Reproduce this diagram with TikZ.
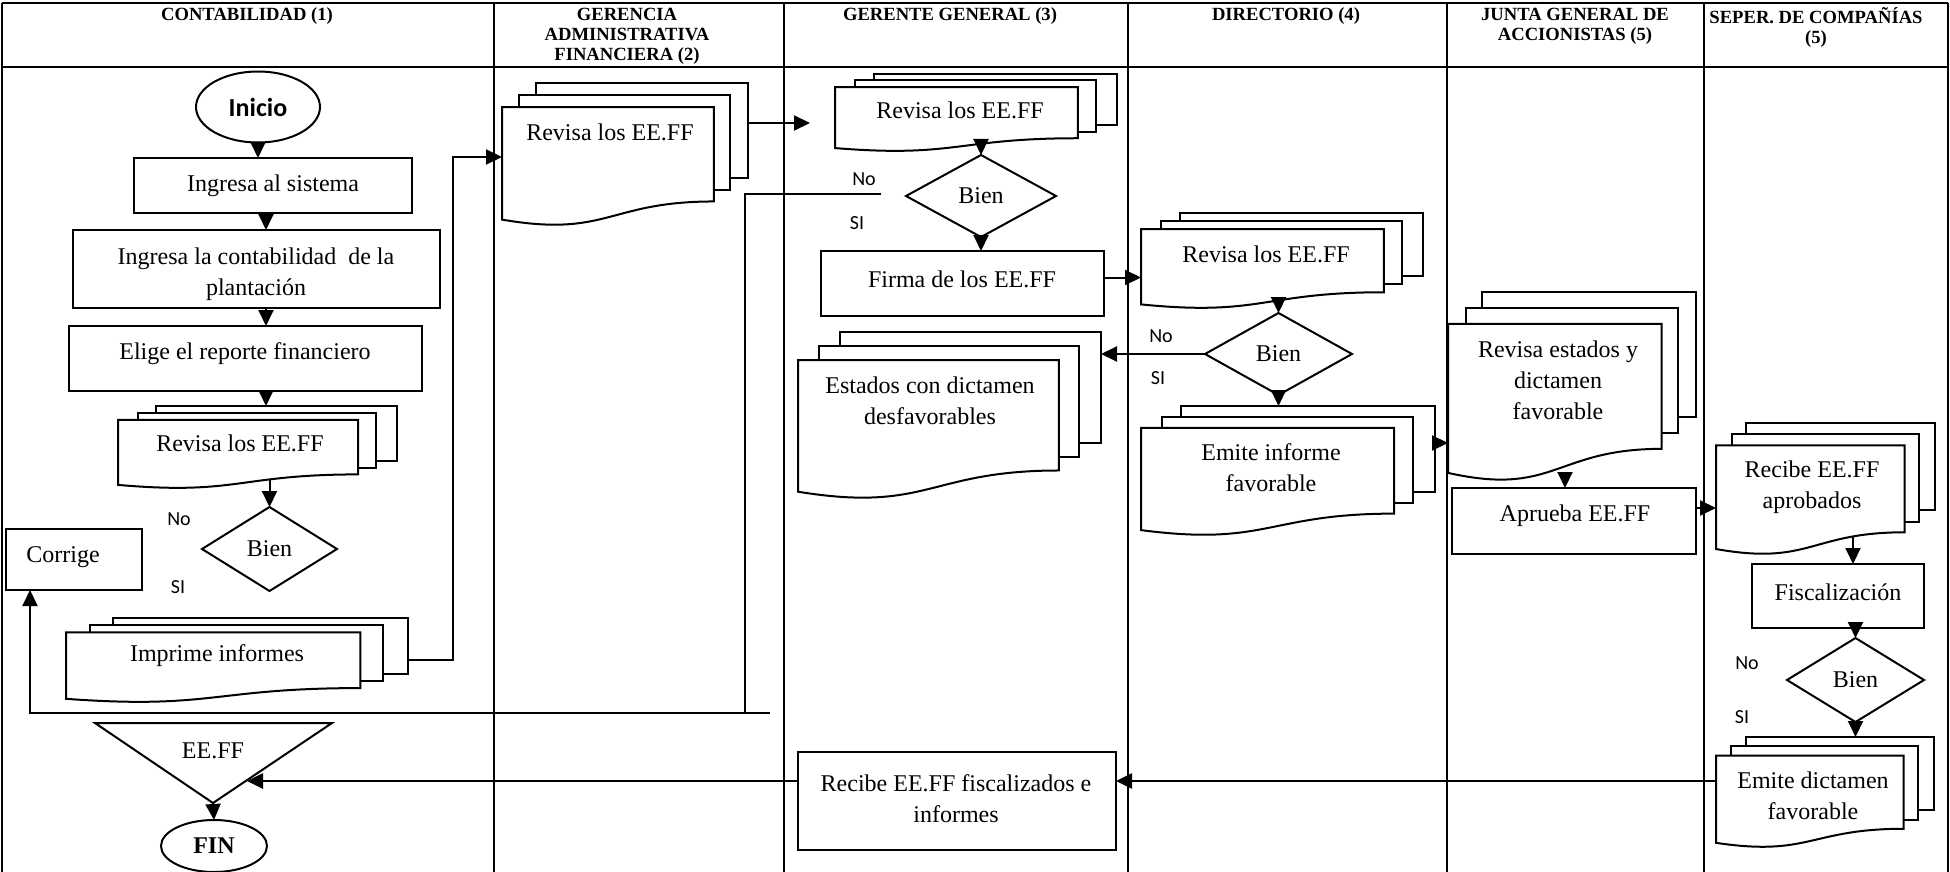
\documentclass[tikz,border=0pt]{standalone}
\usepackage{fontspec}
\setmainfont{Liberation Serif}
\newfontfamily\lblfont{Carlito}
\usetikzlibrary{arrows.meta,shapes.geometric,fit,calc}

% three stacked pages with a wavy bottom edge, drawn inside the box (#2,#3)-(#4,#5)
\newcommand\multidoc[5]{%
  \begin{scope}[shift={(#2,#3)}, xscale={#4-#2}, yscale={#5-#3}]
    \filldraw[page] (0.1376,0) rectangle (1,0.6663);
    \filldraw[page] (0.0709,0.0840) rectangle (0.9259,0.7524);
    \filldraw[page] (0,0.1701) -- (0.8609,0.1701) -- (0.8609,0.8343)
      .. controls (0.4305,0.8343) and (0.4305,1.0899) .. (0,0.9621) -- cycle;
  \end{scope}
  \node[fit={(#2,#3) (#4,#5)}] (#1) {};
}

\begin{document}
\begin{tikzpicture}[x=0.5pt,y=-0.5pt,
  every node/.style={inner sep=0pt, outer sep=0pt},
  grid/.style={line width=1.3pt},
  page/.style={draw, fill=white, line width=1pt},
  box/.style={draw, line width=1pt, rectangle},
  oval/.style={draw, line width=1pt, ellipse},
  decision/.style={draw, line width=1pt, diamond, minimum width=#1},
  txt/.style={font=\fontsize{12}{15.5}\selectfont, align=center},
  hdr/.style={font=\fontsize{9.3}{10}\selectfont\bfseries, align=center, anchor=north},
  lbl/.style={font=\lblfont\fontsize{10}{12}\selectfont},
  link/.style={line width=1pt},
  arr/.style={line width=1pt, -{Triangle[length=8pt,width=7.5pt]}},
]
\useasboundingbox (0,0) rectangle (1950,872);

% ---------- swimlane table ----------
\draw[grid] (2,3) -- (1948,3);
\draw[grid] (2,67) -- (1948,67);
\foreach \cx in {2,494,784,1128,1447,1704,1948}
  \draw[grid] (\cx,3) -- (\cx,872);

\node[hdr] (h1) at (247,8) {CONTABILIDAD (1)};
\node[hdr] (h2) at (627,8) {GERENCIA\\ADMINISTRATIVA\\FINANCIERA (2)};
\node[hdr] (h3) at (950,8) {GERENTE GENERAL (3)};
\node[hdr] (h4) at (1286,8) {DIRECTORIO (4)};
\node[hdr] (h5) at (1575,8) {JUNTA GENERAL DE\\ACCIONISTAS (5)};
\node[hdr] (h6) at (1816,8) {SEPER. DE COMPAÑÍAS\\(5)};

% ---------- Contabilidad ----------
\node[oval, minimum width=62pt, minimum height=35.5pt,
      font=\lblfont\bfseries\fontsize{13}{15}\selectfont] (inicio) at (258,107) {Inicio};
\node[box, fit={(134,158) (412,213)}] (ingresa) {};
\node[txt] (ingresa-t) at (273,186) {Ingresa al sistema};
\node[box, fit={(73,230) (440,308)}] (contab) {};
\node[txt] (contab-t) at (256,274) {Ingresa la contabilidad~ de la\\plantación};
\node[box, fit={(69,326) (422,391)}] (elige) {};
\node[txt] (elige-t) at (245,354) {Elige el reporte financiero};
\multidoc{revisa1}{118}{406}{397}{488}
\node[txt] (revisa1-t) at (240,443) {Revisa los EE.FF};
\node[decision=67.5pt, minimum height=42pt, txt] (bien1) at (269.5,549) {Bien};
\node[lbl] (no1) at (179,519) {No};
\node[lbl] (si1) at (178,587) {SI};
\node[box, fit={(6,529) (142,590)}] (corrige) {};
\node[txt] (corrige-t) at (63,557) {Corrige};
\multidoc{imprime}{66}{618}{408}{702}
\node[txt] (imprime-t) at (217,656) {Imprime informes};
\draw[line width=1pt] (95,723) -- (332,723) -- (213,803) -- cycle;
\coordinate (eeffv) at (213,803);
\coordinate (eeffedge) at (247,781);
\node[txt] (eeff-t) at (213,751) {EE.FF};
\node[oval, minimum width=53pt, minimum height=26pt,
      font=\fontsize{12}{14}\selectfont\bfseries] (fin) at (214,846) {FIN};

% ---------- Gerencia administrativa financiera ----------
\multidoc{gerencia}{502}{83}{748}{225}
\node[txt] (gerencia-t) at (610,132) {Revisa los EE.FF};

% ---------- Gerente general ----------
\multidoc{rev3}{835}{74}{1117}{151}
\node[txt] (rev3-t) at (960,110) {Revisa los EE.FF};
\node[decision=75pt, minimum height=41pt, txt] (bien3) at (981,196) {Bien};
\node[lbl] (no3) at (864,179) {No};
\node[lbl] (si3) at (857,223) {SI};
\node[box, fit={(821,251) (1104,316)}] (firma) {};
\node[txt] (firma-t) at (962,279) {Firma de los EE.FF};
\multidoc{estados}{798}{332}{1101}{498}
\node[txt] (estados-t) at (930,401) {Estados con dictamen\\desfavorables};
\node[box, fit={(798,752) (1116,850)}] (recibef) {};
\node[txt] (recibef-t) at (956,799) {Recibe EE.FF fiscalizados e\\informes};

% ---------- Directorio ----------
\multidoc{rev4}{1141}{213}{1423}{308}
\node[txt] (rev4-t) at (1266,254) {Revisa los EE.FF};
\node[decision=73.5pt, minimum height=41pt, txt] (bien4) at (1278.5,354) {Bien};
\node[lbl] (no4) at (1161,336) {No};
\node[lbl] (si4) at (1158,378) {SI};
\multidoc{emite4}{1141}{406}{1435}{535}
\node[txt] (emite4-t) at (1271,468) {Emite informe\\favorable};

% ---------- Junta general de accionistas ----------
\multidoc{junta}{1448}{292}{1696}{480}
\node[txt] (junta-t) at (1558,380) {Revisa estados y\\dictamen\\favorable};
\node[box, fit={(1452,488) (1696,554)}] (aprueba) {};
\node[txt] (aprueba-t) at (1575,516) {Aprueba EE.FF};

% ---------- Superintendencia ----------
\multidoc{recibe6}{1716}{423}{1935}{554}
\node[txt] (recibe6-t) at (1812,487) {Recibe EE.FF\\aprobados};
\node[box, fit={(1752,564) (1924,628)}] (fisc) {};
\node[txt] (fisc-t) at (1838,592) {Fiscalización};
\node[decision=68.5pt, minimum height=42pt, txt] (bien6) at (1855.5,680) {Bien};
\node[lbl] (no6) at (1747,663) {No};
\node[lbl] (si6) at (1742,717) {SI};
\multidoc{emite6}{1716}{737}{1934}{847}
\node[txt] (emite6-t) at (1813,796) {Emite dictamen\\favorable};

% ---------- connectors ----------
\coordinate (axis1) at (266,0);
\draw[arr] (inicio.south) -- (inicio.south |- ingresa.north);
\draw[arr] (axis1 |- ingresa.south) -- (axis1 |- contab.north);
\draw[arr] (axis1 |- contab.south) -- (axis1 |- elige.north);
\draw[arr] (axis1 |- elige.south) -- (axis1 |- revisa1.north);
\draw[arr] ($(bien1.north)+(0,-27)$) -- (bien1.north);

% "No" branch of the general manager's check, back to Corrige
\coordinate (nostart) at (881,194);
\coordinate (loopend) at (770,713);
\draw[link] (nostart) -- ++(-136,0) -- ++(0,519);
\draw[arr] (loopend) -| ($(corrige.south west)+(24,0)$);

\draw[arr] (imprime.east) -- ++(45,0) |- ($(gerencia.north west)+(0,74)$);
\draw[arr] ($(gerencia.north east)+(0,40)$) -- ++(62,0);
\draw[arr] ($(bien3.north)+(0,-15)$) -- (bien3.north);
\draw[arr] (bien3.south) -- (bien3.south |- firma.north);
\path ($(firma.east)+(0,-6)$) coordinate (fe);
\draw[arr] (fe) -- (fe -| rev4.west);
\draw[arr] ($(bien4.north)+(0,-13)$) -- (bien4.north);
\draw[arr] (bien4.west) -- (bien4.west -| estados.east);
\draw[arr] (bien4.south) -- (bien4.south |- emite4.north);
\path ($(emite4.north east)+(0,37)$) coordinate (eo);
\draw[arr] (eo) -- (eo -| junta.west);
\draw[arr] ($(aprueba.north)+(-9,-16)$) -- ($(aprueba.north)+(-9,0)$);
\path ($(aprueba.east)+(0,-13)$) coordinate (ao);
\draw[arr] (ao) -- (ao -| recibe6.west);
\draw[arr] ($(fisc.north)+(15,-27)$) -- ($(fisc.north)+(15,0)$);
\draw[arr] (bien6.north |- fisc.south) -- (bien6.north);
\draw[arr] (bien6.south) -- (bien6.south |- emite6.north);
\path ($(emite6.north west)+(0,44)$) coordinate (ed);
\draw[arr, line width=1.3pt] (ed) -- (ed -| recibef.east);
\path ($(recibef.north west)+(0,29)$) coordinate (ri);
\draw[arr, line width=1.3pt] (ri) -- (eeffedge);
\draw[arr] (eeffv) -- (fin.north);
\end{tikzpicture}
\end{document}
